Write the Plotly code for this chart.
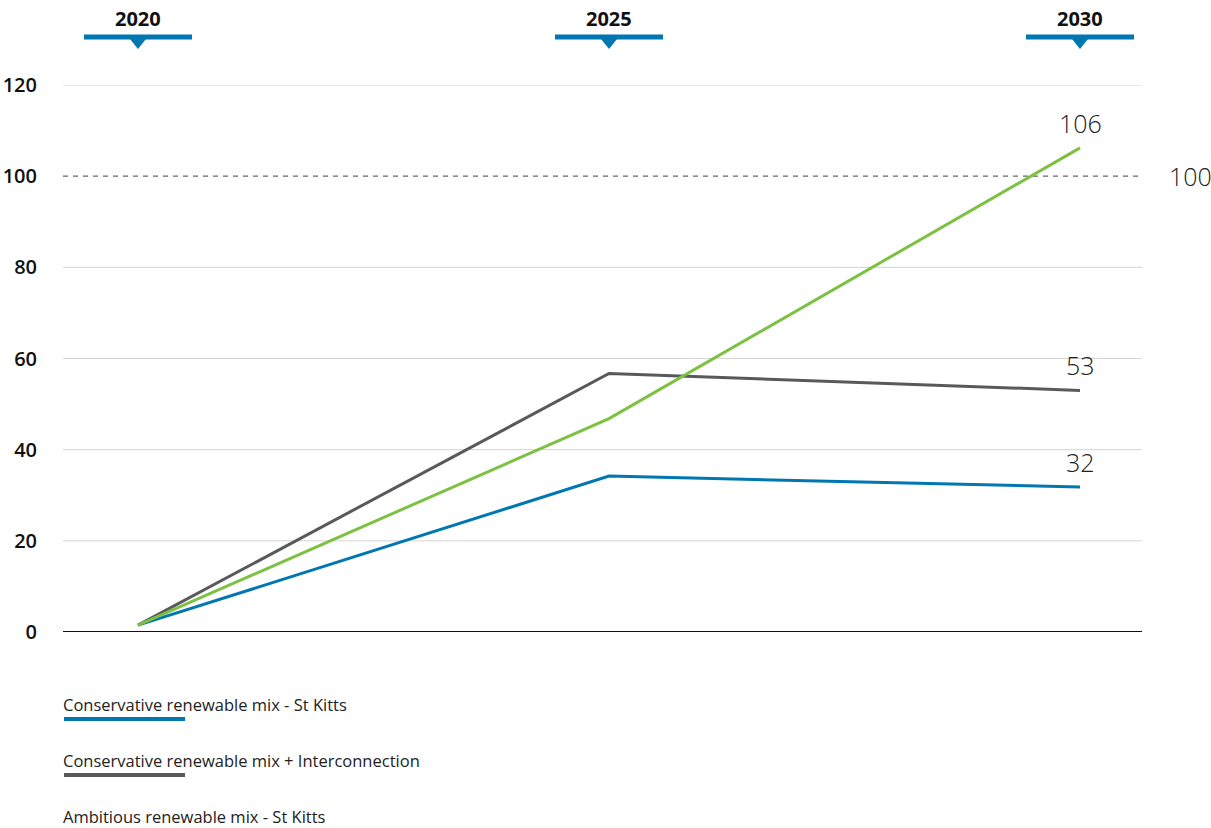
import plotly.graph_objects as go

years = [2020, 2025, 2030]
conservative = [1.5, 34.2, 31.8]
interconnection = [1.5, 56.7, 53.0]
ambitious = [1.5, 46.8, 106.2]
end_labels = ["32", "53", "106"]
series_names = [
    "Conservative renewable mix - St Kitts",
    "Conservative renewable mix + Interconnection",
    "Ambitious renewable mix - St Kitts",
]
colors = ["#0077b1", "#58595b", "#7dc142"]
ref_value = 100
y_ticks = [0, 20, 40, 60, 80, 100, 120]

W, H = 1211, 828
L, R, T, B = 63, 69, 85, 196
PH = H - T - B
PW = W - L - R
x_range = [2019.204, 2030.658]
y_range = [0, 120]


def py(pix):
    return (H - B - pix) / PH


def pxp(pix):
    return (pix - L) / PW


def xp(year):
    return (year - x_range[0]) / (x_range[1] - x_range[0])


fig = go.Figure()
all_series = [conservative, interconnection, ambitious]
for name, vals, col in zip(series_names, all_series, colors):
    fig.add_trace(go.Scatter(x=years, y=vals, mode="lines", name=name,
                             line=dict(color=col, width=3), showlegend=False))

shapes = []
annotations = []

# gridlines (skip zero and reference value)
for v in y_ticks:
    if v in (0, ref_value):
        continue
    shapes.append(dict(type="line", xref="paper", yref="y", x0=0, x1=1, y0=v, y1=v,
                       line=dict(color="#d4d4d4", width=1), layer="below"))

# reference dashed line
shapes.append(dict(type="line", xref="paper", yref="y", x0=0, x1=1, y0=ref_value, y1=ref_value,
                   line=dict(color="#666666", width=1.2, dash="5px,5px"), layer="below"))
annotations.append(dict(xref="paper", yref="y", x=pxp(1190), y=ref_value, text=str(ref_value),
                        showarrow=False, xanchor="center", yanchor="middle",
                        font=dict(family="Open Sans", size=25, color="#222222", weight=300)))

# zero line
shapes.append(dict(type="line", xref="paper", yref="y", x0=0, x1=1, y0=0, y1=0,
                   line=dict(color="#111111", width=2)))

# end value labels
for vals, lab in zip(all_series, end_labels):
    annotations.append(dict(x=years[-1], y=vals[-1], text=lab, showarrow=False,
                            xanchor="center", yanchor="bottom", yshift=6,
                            font=dict(family="Open Sans", size=25, color="#222222", weight=300)))

# header year markers
for yr in years:
    cx = xp(yr)
    half = 54 / PW
    shapes.append(dict(type="line", xref="paper", yref="paper", x0=cx - half, x1=cx + half,
                       y0=py(37), y1=py(37), line=dict(color="#0077b1", width=5)))
    tw = 8 / PW
    path = f"M {cx - tw},{py(39)} L {cx + tw},{py(39)} L {cx},{py(49)} Z"
    shapes.append(dict(type="path", xref="paper", yref="paper", path=path,
                       fillcolor="#0077b1", line=dict(width=0)))
    annotations.append(dict(xref="paper", yref="paper", x=cx, y=py(18), text=f"<b>{yr}</b>",
                            showarrow=False, xanchor="center", yanchor="middle",
                            font=dict(family="Open Sans", size=20, color="#111111")))

# custom legend
leg_text_y = [704, 760, 816]
for name, col, ty in zip(series_names, colors, leg_text_y):
    annotations.append(dict(xref="paper", yref="paper", x=pxp(61), y=py(ty), text=name,
                            showarrow=False, xanchor="left", yanchor="middle",
                            font=dict(family="Open Sans", size=16.5, color="#222222")))
    shapes.append(dict(type="line", xref="paper", yref="paper", x0=pxp(64), x1=pxp(185),
                       y0=py(ty + 15), y1=py(ty + 15), line=dict(color=col, width=4)))

fig.update_layout(
    width=W, height=H,
    margin=dict(l=L, r=R, t=T, b=B, pad=0, autoexpand=False),
    paper_bgcolor="white", plot_bgcolor="white",
    xaxis=dict(range=x_range, showgrid=False, zeroline=False, showticklabels=False,
               showline=False, fixedrange=True, automargin=False),
    yaxis=dict(range=y_range, tickvals=y_ticks, ticktext=[str(v) for v in y_ticks],
               showgrid=False, zeroline=False,
               showline=False, ticks="", ticklabelstandoff=25, automargin=False,
               tickfont=dict(family="Open Sans", size=20, color="#111111", weight=600)),
    shapes=shapes, annotations=annotations,
    showlegend=False,
)

fig.write_html("out.html")
